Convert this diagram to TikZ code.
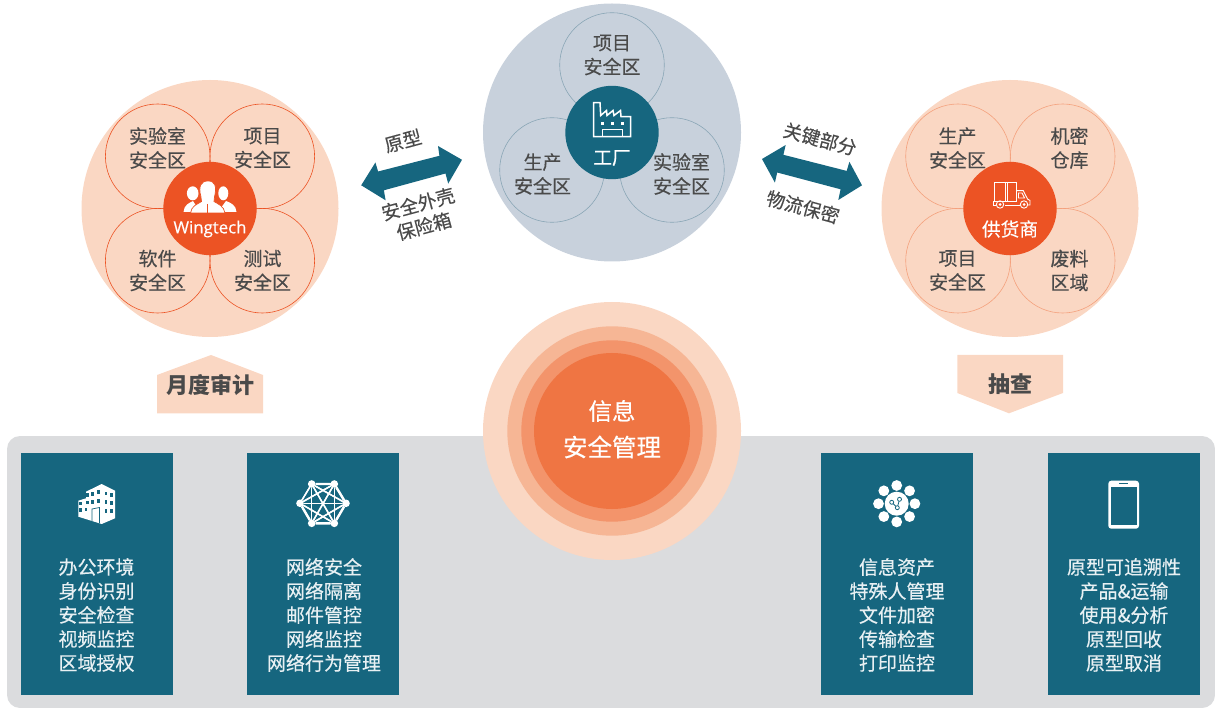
\documentclass[tikz,border=0pt]{standalone}
\usepackage{fontspec}
\setmainfont{Noto Sans CJK SC}
\newfontfamily\medfont[FakeBold=0.35]{Noto Sans CJK SC}
\newfontfamily\latinfont[FakeBold=0.5]{Open Sans}
\definecolor{peach}{HTML}{FAD7C3}
\definecolor{flame}{HTML}{EC5324}
\definecolor{ringa}{HTML}{F6B695}
\definecolor{ringb}{HTML}{F3946B}
\definecolor{ringc}{HTML}{EF7543}
\definecolor{slate}{HTML}{C8D1DC}
\definecolor{slateline}{HTML}{8AA6B6}
\definecolor{teal}{HTML}{16667F}
\definecolor{panel}{HTML}{DBDCDE}
\definecolor{ink}{HTML}{4A4A4A}
\definecolor{boxtext}{HTML}{E8F0F3}
\tikzset{
	disc/.style={circle,inner sep=0,outer sep=0,minimum size=#1},
	zone/.style={disc=104.6,draw,line width=.6pt},
	zonetext/.style={text=ink,align=center,font=\fontsize{19}{24}\selectfont\medfont,inner sep=0},
	boxnode/.style={fill=teal,inner sep=0,minimum width=152,minimum height=242},
	boxlabel/.style={text=boxtext,align=center,font=\fontsize{19}{24}\selectfont\medfont,inner sep=0},
	sidelabel/.style={text=ink,align=center,font=\fontsize{18.7}{23}\selectfont\medfont,inner sep=0},
	badge/.style={text=ink,font=\fontsize{22}{24}\selectfont\bfseries,inner sep=0},
	hublabel/.style={text=white,font=\fontsize{18.7}{22}\selectfont\medfont,inner sep=0},
}
\begin{document}
\begin{tikzpicture}[x=1pt,y=-1pt]
	\useasboundingbox (0,0) rectangle (1215,708);
	%Grey panel
		\fill[panel,rounded corners=13] (7,436) rectangle (1215,708);
	%Left group
		\node[disc=257,fill=peach] (leftbig) at (210,208.5) {};
		\foreach \n/\p in {lz1/{157.7,156.3},lz2/{262.3,156.3},lz3/{157.7,260.7},lz4/{262.3,260.7}}
		{
			\node[zone,draw=flame] (\n) at (\p) {};
		}
		\node[disc=93.4,fill=flame] (lefthub) at (leftbig) {};
		\node[zonetext] (lt1) at (157.5,148) {实验室\\安全区};
		\node[zonetext] (lt2) at (262.5,148) {项目\\安全区};
		\node[zonetext] (lt3) at (157.5,270.5) {软件\\安全区};
		\node[zonetext] (lt4) at (262.5,270.5) {测试\\安全区};
		\node[hublabel,font=\fontsize{16.8}{18}\selectfont\latinfont] (wing) at (210,229) {Wingtech};
	%People
		\fill[white] (192.7,193.3) ellipse (5.8 and 7);
		\fill[white] (223.3,193.3) ellipse (5 and 7);
		\fill[white] (183.5,212) .. controls (184,205) and (189,203) .. (193,201) -- (200,212) -- cycle;
		\fill[white] (236.5,212) .. controls (236,205) and (231,203) .. (226,201) -- (218,212) -- cycle;
		\fill[white,draw=flame,line width=.7pt] (190.5,213) .. controls (191,206) and (198,204) .. (201.5,201.5) -- (201,197) .. controls (198,186) and (201,181) .. (208,181) .. controls (215,181) and (217,186) .. (214.5,197) -- (214,201.5) .. controls (218,204) and (224,206) .. (225,213) -- cycle;
		\draw[flame,line width=1.2pt] (207.8,204) -- (207.8,213.5);
	%Top group
		\node[disc=258,fill=slate] (topbig) at (612,132.5) {};
		\foreach \n/\p in {tz1/{612,65},tz2/{552,170},tz3/{672,170}}
		{
			\node[zone,draw=slateline] (\n) at (\p) {};
		}
		\node[disc=93.4,fill=teal] (tophub) at (topbig) {};
		\node[zonetext] (tt1) at (612,55) {项目\\安全区};
		\node[zonetext] (tt2) at (542.5,174) {生产\\安全区};
		\node[zonetext] (tt3) at (681.5,174) {实验室\\安全区};
		\node[hublabel] (gong) at (612,158) {工厂};
	%Factory
		\draw[white,line width=1.5pt,line join=miter] (593.5,102.7) -- (600,102.7) -- (600.7,115.5) -- (606.5,110.5) -- (607,115.5) -- (613,110.5) -- (614,115.5) -- (620.5,110.5) -- (621,116.7) -- (630.7,116.7) -- (630.7,136.7) -- (593.5,136.7) -- cycle;
		\draw[white,line width=1.5pt] (602.3,136.7) -- (602.3,129.3) -- (622.7,129.3) -- (622.7,136.7);
		\foreach \x in {602.5,612.5,622.5}
		{
			\fill[white] (\x-1.5,121.8) rectangle (\x+1.5,124.8);
		}
	%Right group
		\node[disc=257,fill=peach] (rightbig) at (1010,208.5) {};
		\foreach \n/\p in {rz1/{958,156.3},rz2/{1062.7,156.3},rz3/{958,260.7},rz4/{1062.7,260.7}}
		{
			\node[zone,draw=ringb!80!peach] (\n) at (\p) {};
		}
		\node[disc=93.4,fill=flame] (righthub) at (rightbig) {};
		\node[zonetext] (rt1) at (957.5,148) {生产\\安全区};
		\node[zonetext] (rt2) at (1069.5,148) {机密\\仓库};
		\node[zonetext] (rt3) at (957.5,270.5) {项目\\安全区};
		\node[zonetext] (rt4) at (1069.5,270.5) {废料\\区域};
		\node[hublabel] (supplier) at (1010,229) {供货商};
	%Truck
		\begin{scope}[white,line width=.9pt]
			\draw (994,201.5) -- (994,182.7) -- (1016.7,182.7) -- (1016.7,201.5);
			\draw (1005,182.7) -- (1005,201.5) (1007.5,182.7) -- (1007.5,201.5);
			\draw (1016.7,190.7) -- (1023.3,190.7) -- (1027.5,199) -- (1030,200.5) -- (1030,205) -- (1028,205);
			\draw (1018.5,193) -- (1022,193) -- (1024.5,198) -- (1018.5,198) -- cycle;
			\draw (1020,205) -- (1004.5,205) (995.5,205) -- (993,205) -- (993,201.5) -- (1017,201.5);
			\draw (1000,204.5) circle (3.7) (1024,204.5) circle (3.7);
			\fill (1000,204.5) circle (1.5) (1024,204.5) circle (1.5);
		\end{scope}
	%Double arrows
		\fill[teal] (361.2,185.3) -- (375.4,162.5) -- (378.1,171.5) -- (439.4,155.8) -- (438,146) -- (462,159.8) -- (448.2,183.6) -- (445.5,173.5) -- (383.9,190.3) -- (385.6,200.3) -- cycle;
		\fill[teal] (762,159) -- (785.7,145) -- (783.4,154.8) -- (846.7,170.9) -- (849.4,161.8) -- (862,185.3) -- (838.3,200) -- (840.6,189.3) -- (777.2,172.5) -- (774.9,182.6) -- cycle;
		\node[sidelabel,rotate=15] (protoa) at (403,141) {原型};
		\node[sidelabel,rotate=15] (shell) at (421,215) {安全外壳\\保险箱};
		\node[sidelabel,rotate=-15] (keypart) at (820,139) {关键部分};
		\node[sidelabel,rotate=-15] (logi) at (803,207) {物流保密};
	%Badges
		\fill[peach] (157,413.3) -- (157,375) -- (211,355) -- (263,375) -- (263,413.3) -- cycle;
		\fill[peach] (957.3,355) -- (1063,355) -- (1063,393) -- (1009,413.3) -- (957.3,393) -- cycle;
		\node[badge] (audit) at (210,385) {月度审计};
		\node[badge] (spot) at (1010,384.5) {抽查};
	%Centre rings
		\node[disc=258,fill=peach] (ring0) at (612,431) {};
		\node[disc=209.4,fill=ringa] (ring1) at (ring0) {};
		\node[disc=181.4,fill=ringb] (ring2) at (ring0) {};
		\node[disc=156,fill=ringc] (ring3) at (ring0) {};
		\node[text=white,font=\fontsize{23.5}{24}\selectfont\medfont,inner sep=0] (xinxi) at (612,411) {信息};
		\node[text=white,font=\fontsize{24.5}{24}\selectfont\medfont,inner sep=0] (manage) at (612,447) {安全管理};
	%Boxes
		\node[boxnode] (box1) at (97,574) {};
		\node[boxnode] (box2) at (323,574) {};
		\node[boxnode] (box3) at (897,574) {};
		\node[boxnode] (box4) at (1124,574) {};
		\node[boxlabel] (text1) at (96.5,615) {办公环境\\身份识别\\安全检查\\视频监控\\区域授权};
		\node[boxlabel] (text2) at (324,615) {网络安全\\网络隔离\\邮件管控\\网络监控\\网络行为管理};
		\node[boxlabel] (text3) at (897,615) {信息资产\\特殊人管理\\文件加密\\传输检查\\打印监控};
		\node[boxlabel] (text4) at (1124,615) {原型可追溯性\\产品\&运输\\使用\&分析\\原型回收\\原型取消};
	%Building
		\fill[white] (101.7,484) -- (115,490.7) -- (115,518.3) -- (101.7,524) -- (78.3,516.7) -- (78.3,500.7) -- (86,498.3) -- (86,491.7) -- cycle;
		\foreach \x/\y in {87.3/495,92.3/494,98.3/491.7,80.7/503.3,87.3/502.3,92.3/501.7,98.3/500.7,80.7/510,86/509.5,106/493.3,111.7/495,106/501.7,111.7/502.7,106/510.7,111.7/511}
		{
			\fill[teal] (\x-1.4,\y-1.8) rectangle (\x+1.4,\y+1.8);
		}
		\draw[teal,line width=.7pt] (92,521) -- (92,509) -- (99.5,507.5) -- (99.5,523);
	%Network
		\foreach \n/\p in {n1/{311.7,484},n2/{334.3,484},n3/{346,503.3},n4/{334.3,523.3},n5/{311.7,523.3},n6/{300,503.3}}
		{
			\node[disc=7.6,fill=white] (\n) at (\p) {};
		}
		\foreach \i in {1,...,6}
		{
			\foreach \j in {1,...,6}
			{
				\draw[white,line width=1.4pt] (n\i) -- (n\j);
			}
		}
		\draw[white,line width=2.4pt] (n1) -- (n2) -- (n3) -- (n4) -- (n5) -- (n6) -- cycle;
	%Flower
		\node[disc=24,fill=white] (core) at (896.7,503.7) {};
		\foreach \a in {0,45,...,315}
		{
			\fill[white] (core) ++(\a:18.2) circle (5.4);
		}
		\node[disc=4,draw=teal,line width=.8pt] (sa) at (891.7,502.3) {};
		\node[disc=4,draw=teal,line width=.8pt] (sb) at (899.5,499.3) {};
		\node[disc=4,draw=teal,line width=.8pt] (sc) at (897.3,507.7) {};
		\draw[teal,line width=.8pt] (sa) -- (sc) -- (sb);
	%Phone
		\fill[white,rounded corners=3] (1108.3,480.7) rectangle (1139,528.7);
		\fill[teal] (1110.5,486.7) rectangle (1136.8,525);
		\draw[teal,line width=.7pt] (1119,483.5) -- (1128,483.5);
\end{tikzpicture}
\end{document}
